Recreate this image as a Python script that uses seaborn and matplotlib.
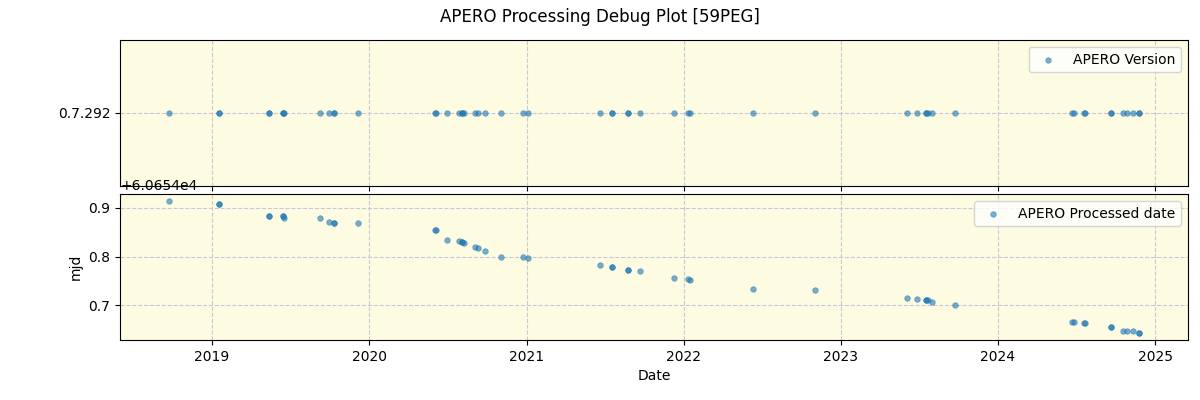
import matplotlib
matplotlib.use("Agg")
import matplotlib.pyplot as plt
import seaborn as sns
import pandas as pd

dates = [
    "2018-09-22", "2019-01-17", "2019-01-17", "2019-05-14", "2019-05-14",
    "2019-06-14", "2019-06-14", "2019-06-18", "2019-09-10", "2019-09-30",
    "2019-10-11", "2019-10-12", "2019-12-07", "2020-06-01", "2020-06-05",
    "2020-06-29", "2020-07-29", "2020-08-05", "2020-08-05", "2020-08-09",
    "2020-09-03", "2020-09-10", "2020-09-26", "2020-11-02", "2020-12-24",
    "2021-01-04", "2021-06-20", "2021-07-19", "2021-07-19", "2021-08-24",
    "2021-08-24", "2021-09-21", "2021-12-10", "2022-01-10", "2022-01-16",
    "2022-06-10", "2022-11-02", "2023-06-04", "2023-06-27", "2023-07-19",
    "2023-07-19", "2023-07-23", "2023-08-01", "2023-09-24", "2024-06-21",
    "2024-06-27", "2024-07-18", "2024-07-22", "2024-09-21", "2024-09-21",
    "2024-10-18", "2024-10-28", "2024-11-09", "2024-11-25", "2024-11-25",
]
processed_frac = [
    0.9143, 0.9082, 0.9082, 0.8836, 0.8836,
    0.8829, 0.8829, 0.8795, 0.8795, 0.8713,
    0.8693, 0.8693, 0.8693, 0.8550, 0.8550,
    0.8345, 0.8324, 0.8304, 0.8304, 0.8283,
    0.8201, 0.8181, 0.8119, 0.7997, 0.7997,
    0.7976, 0.7833, 0.7792, 0.7792, 0.7717,
    0.7717, 0.7710, 0.7567, 0.7546, 0.7526,
    0.7341, 0.7321, 0.7157, 0.7137, 0.7102,
    0.7102, 0.7102, 0.7075, 0.7014, 0.6665,
    0.6665, 0.6645, 0.6645, 0.6556, 0.6556,
    0.6480, 0.6480, 0.6467, 0.6427, 0.6427,
]
mjd_base = 60654
version = ["0.7.292"] * len(dates)

df = pd.DataFrame({
    "Date": pd.to_datetime(dates),
    "version": version,
    "mjd": [mjd_base + f for f in processed_frac],
})

sns.set_style("ticks")
plt.rcParams['font.family'] = ['DejaVu Sans']
plt.rcParams['text.color'] = 'black'
plt.rcParams['axes.labelcolor'] = 'black'
plt.rcParams['xtick.color'] = 'black'
plt.rcParams['ytick.color'] = 'black'

fig, (ax1, ax2) = plt.subplots(2, 1, figsize=(12, 4), dpi=100, sharex=True)
fig.subplots_adjust(left=0.1, right=0.99, top=0.9, bottom=0.15, hspace=0.055)
fig.suptitle("APERO Processing Debug Plot [59PEG]", fontsize=12)

bg = "#fdfbe2"
for ax in (ax1, ax2):
    ax.set_facecolor(bg)

c = "#1f77b4"
sns.scatterplot(data=df, x="Date", y="version", ax=ax1, s=16, alpha=0.6,
                color=c, edgecolor=c, linewidth=0.5, label="APERO Version")
sns.scatterplot(data=df, x="Date", y="mjd", ax=ax2, s=16, alpha=0.6,
                color=c, edgecolor=c, linewidth=0.5, label="APERO Processed date")

ax1.set_ylim(-0.5, 0.5)
ax1.set_ylabel("")
ax1.set_xlabel("")
ax2.set_ylabel("mjd")
ax2.set_xlabel("Date")

for ax in (ax1, ax2):
    ax.grid(True, linestyle="--", color="#c8c8d0", linewidth=0.8)
    ax.legend(loc="upper right", fontsize=10)
    for sp in ax.spines.values():
        sp.set_visible(True)
        sp.set_color("black")
        sp.set_linewidth(0.8)

ax1.tick_params(axis="x", labelbottom=False)

fig.savefig("out.png", dpi=100)
